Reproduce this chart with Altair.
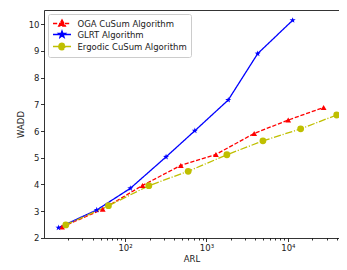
import altair as alt
import pandas as pd

names = ["OGA CuSum Algorithm", "GLRT Algorithm", "Ergodic CuSum Algorithm"]

oga_arl = [16.8, 53.2, 164, 484, 1306, 3860, 10100, 27500]
oga_wadd = [2.40, 3.07, 3.96, 4.71, 5.12, 5.91, 6.41, 6.88]

glrt_arl = [15.2, 44.9, 116, 319, 720, 1850, 4260, 11450]
glrt_wadd = [2.375, 3.04, 3.85, 5.03, 6.01, 7.16, 8.90, 10.15]

erg_arl = [18.7, 62.5, 196, 596, 1782, 4940, 14360, 39800]
erg_wadd = [2.48, 3.20, 3.95, 4.49, 5.11, 5.63, 6.08, 6.60]

major_ticks = [100, 1000, 10000]
minor_ticks = [20, 30, 40, 50, 60, 70, 80, 90,
               200, 300, 400, 500, 600, 700, 800, 900,
               2000, 3000, 4000, 5000, 6000, 7000, 8000, 9000,
               20000, 30000, 40000]
y_ticks = [2, 3, 4, 5, 6, 7, 8, 9, 10]

rows = []
for name, xs, ys in [(names[0], oga_arl, oga_wadd),
                     (names[1], glrt_arl, glrt_wadd),
                     (names[2], erg_arl, erg_wadd)]:
    for a, w in zip(xs, ys):
        rows.append({"series": name, "arl": a, "wadd": w})
df = pd.DataFrame(rows)

colors = ["#ff0000", "#0000ff", "#bfbf00"]
dashes = [[4.2, 1.8], [1, 0], [7.2, 1.8, 1.1, 1.8]]

star = ("M0,-1L0.235,-0.324L0.951,-0.309L0.380,0.124L0.588,0.809L0,0.4"
        "L-0.588,0.809L-0.380,0.124L-0.951,-0.309L-0.235,-0.324Z")
marker_shapes = ["triangle-up", star, "circle"]
marker_sizes = [34, 46, 40]

legend_paths = [
    "M-2,0L2,0M0,-0.8L0.75,0.55L-0.75,0.55Z",
    "M-2,0L2,0M0,-0.8L0.19,-0.26L0.76,-0.245L0.3,0.1L0.47,0.65L0,0.32"
    "L-0.47,0.65L-0.3,0.1L-0.76,-0.245L-0.19,-0.26Z",
    "M-2,0L2,0M-0.72,0A0.72,0.72,0,1,0,0.72,0A0.72,0.72,0,1,0,-0.72,0Z",
]

FONT = "DejaVu Sans"
xscale = alt.Scale(type="log", domain=[10.1, 42490], nice=False)
yscale = alt.Scale(domain=[1.989, 10.536], nice=False, zero=False)
color_scale = alt.Scale(domain=names, range=colors)

lines = alt.Chart(df).mark_line(strokeWidth=1.3, clip=True).encode(
    x=alt.X("arl:Q", scale=xscale,
            axis=alt.Axis(values=major_ticks, orient="bottom", title="ARL",
                          labelExpr="datum.value == 100 ? '10²' : datum.value == 1000 ? '10³' : '10⁴'",
                          tickSize=3.5, labelPadding=2, titlePadding=2, grid=False,
                          labelFlush=False, labelOverlap=False)),
    y=alt.Y("wadd:Q", scale=yscale,
            axis=alt.Axis(values=y_ticks, orient="left", title="WADD", format="d",
                          tickSize=3.5, labelPadding=1.5, titlePadding=3, grid=False)),
    color=alt.Color("series:N", scale=color_scale, legend=None),
    strokeDash=alt.StrokeDash("series:N", scale=alt.Scale(domain=names, range=dashes), legend=None),
)

points = alt.Chart(df).mark_point(filled=True, opacity=1).encode(
    x=alt.X("arl:Q", scale=xscale,
            axis=alt.Axis(values=minor_ticks, orient="bottom", labels=False, domain=False,
                          tickSize=2, title=None, grid=False)),
    y=alt.Y("wadd:Q", scale=yscale, axis=None),
    color=alt.Color("series:N", scale=color_scale, legend=None),
    shape=alt.Shape("series:N", scale=alt.Scale(domain=names, range=marker_shapes), legend=None),
    size=alt.Size("series:N", scale=alt.Scale(domain=names, range=marker_sizes), legend=None),
)

leg = alt.Legend(title=None, orient="none", legendX=4, legendY=4,
                 symbolSize=81, symbolStrokeWidth=1.3, symbolOffset=4.5,
                 labelFont=FONT, labelFontSize=8.5, labelColor="#222222",
                 labelOffset=10, padding=4, rowPadding=-2,
                 fillColor="white", strokeColor="#cccccc", cornerRadius=2)

legend_layer = alt.Chart(df).transform_filter("false").mark_point(
    filled=True, opacity=1, strokeWidth=1.3, clip=True).encode(
    x=alt.X("arl:Q", scale=xscale,
            axis=alt.Axis(orient="top", labels=False, ticks=False, domain=True,
                          title=None, grid=False)),
    y=alt.Y("wadd:Q", scale=yscale, axis=None),
    fill=alt.Fill("series:N", scale=alt.Scale(domain=names, range=colors), legend=leg),
    stroke=alt.Stroke("series:N", scale=alt.Scale(domain=names, range=colors), legend=leg),
    shape=alt.Shape("series:N", scale=alt.Scale(domain=names, range=legend_paths), legend=leg),
    strokeDash=alt.StrokeDash("series:N", scale=alt.Scale(domain=names, range=dashes), legend=leg),
)

chart = alt.layer(lines, points, legend_layer).resolve_scale(
    shape="independent", strokeDash="independent", fill="independent", stroke="independent"
).resolve_axis(
    x="independent", y="independent"
).properties(
    width=295, height=228,
    autosize=alt.AutoSizeParams(type="none"),
    padding={"left": 36, "top": 2, "right": 0, "bottom": 24},
).configure_view(
    stroke="transparent"
).configure_axis(
    labelFont=FONT, titleFont=FONT, labelFontSize=8.5, titleFontSize=8.5,
    titleFontWeight="normal", labelColor="#222222", titleColor="#222222",
    domainColor="#000000", tickColor="#000000", domainWidth=0.8, tickWidth=0.8,
)

chart.save("out.html", embed_options={"renderer": "svg", "actions": False})
